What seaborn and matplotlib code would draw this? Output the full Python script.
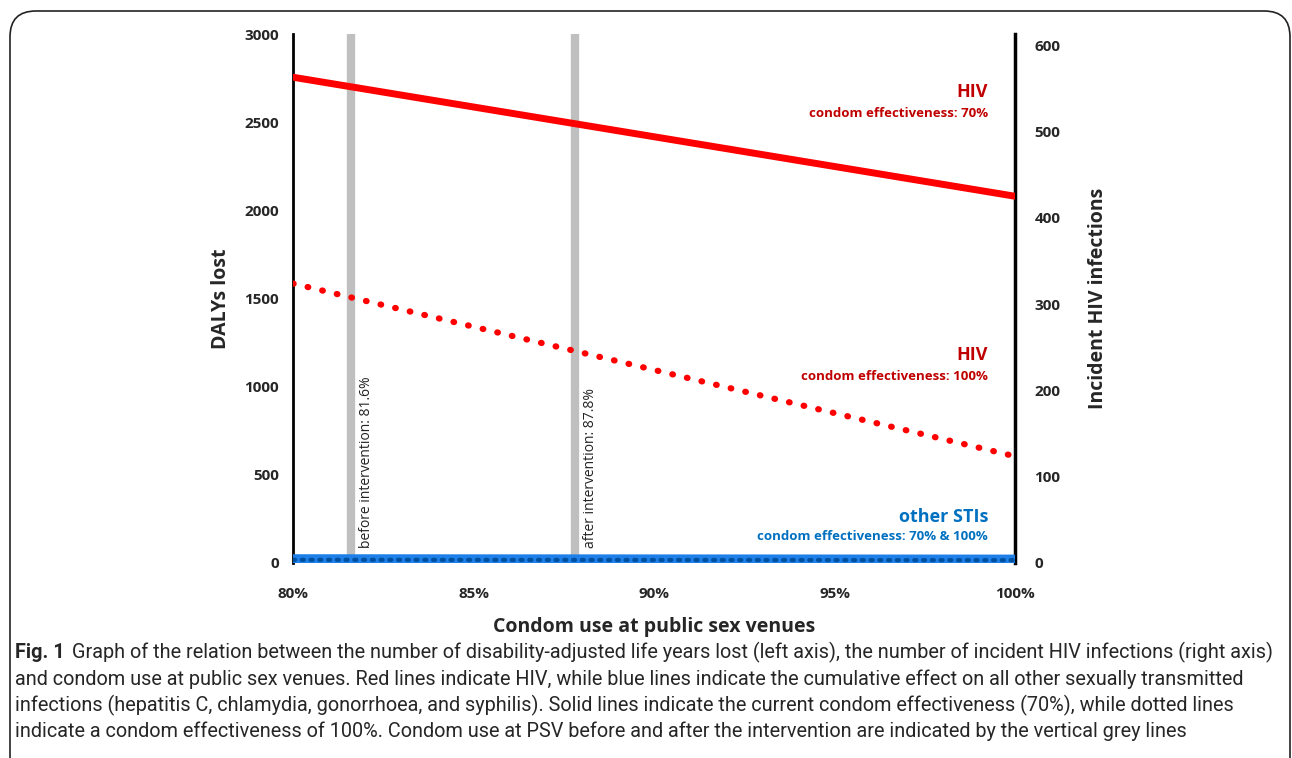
import matplotlib
matplotlib.use("Agg")
import matplotlib.pyplot as plt
import seaborn as sns
import pandas as pd
from matplotlib.patches import FancyBboxPatch

# ---- data ----
condom_use = [80, 100]                  # % condom use at PSV
hiv_daly_70 = [2755, 2080]              # DALYs lost, HIV, effectiveness 70%
hiv_daly_100 = [1585, 605]              # DALYs lost, HIV, effectiveness 100%
sti_daly_70 = [22, 20]                  # DALYs lost, other STIs, 70%
sti_daly_100 = [18, 16]                 # DALYs lost, other STIs, 100%
intervention_x = [81.6, 87.8]
intervention_labels = ["before intervention: 81.6%", "after intervention: 87.8%"]
x_ticks = [80, 85, 90, 95, 100]
x_ticklabels = ["80%", "85%", "90%", "95%", "100%"]
left_ticks = [0, 500, 1000, 1500, 2000, 2500, 3000]
right_ticks = [0, 100, 200, 300, 400, 500, 600]

df = pd.DataFrame({
    "x": condom_use * 4,
    "y": hiv_daly_70 + hiv_daly_100 + sti_daly_70 + sti_daly_100,
    "series": ["hiv70"] * 2 + ["hiv100"] * 2 + ["sti70"] * 2 + ["sti100"] * 2,
})

sns.set_theme(style="white")
plt.rcParams["font.family"] = ["Open Sans", "DejaVu Sans"]

fig = plt.figure(figsize=(12.92, 7.58), dpi=100)
ax = fig.add_axes([0.2268, 0.2573, 0.7856 - 0.2268, 0.9551 - 0.2573])

RED = "#FF0000"
DARKRED = "#C00000"
BLUE = "#0070C0"
LBLUE = "#1E7FE8"

for xv in intervention_x:
    ax.axvline(xv, color="#BFBFBF", lw=6, zorder=1)

ax.axhline(0, color="black", lw=2, ls=(0, (4, 2)), zorder=2)

sns.lineplot(data=df[df.series == "sti70"], x="x", y="y", color=LBLUE, lw=7, ax=ax, zorder=3)
sns.lineplot(data=df[df.series == "sti100"], x="x", y="y", color="#0050A0", lw=3,
             ls=(0, (0.5, 1.6)), dash_capstyle="round", ax=ax, zorder=4)
sns.lineplot(data=df[df.series == "hiv70"], x="x", y="y", color=RED, lw=5, ax=ax, zorder=5)
sns.lineplot(data=df[df.series == "hiv100"], x="x", y="y", color=RED, lw=4.5,
             ls=(0, (0.1, 2.3)), dash_capstyle="round", ax=ax, zorder=5)

ax.set_xlim(80, 100)
ax.set_ylim(0, 3000)
ax.set_xticks(x_ticks)
ax.set_xticklabels(x_ticklabels)
ax.set_yticks(left_ticks)
ax.set_yticklabels([str(v) for v in left_ticks])
ax.tick_params(axis="both", length=0, labelsize=11)
ax.tick_params(axis="x", pad=17)
ax.tick_params(axis="y", pad=10)
for lab in ax.get_xticklabels() + ax.get_yticklabels():
    lab.set_fontweight("bold")

ax.set_xlabel("Condom use at public sex venues", fontsize=14, fontweight="bold", labelpad=12)
ax.set_ylabel("DALYs lost", fontsize=14, fontweight="bold", labelpad=10)

for side in ["top", "bottom"]:
    ax.spines[side].set_visible(False)
ax.spines["left"].set_color("black")
ax.spines["left"].set_linewidth(2)
ax.spines["right"].set_color("black")
ax.spines["right"].set_linewidth(2.5)

ax2 = ax.twinx()
# right axis: 0 at bottom, 600 at y=45px (axes top at 34px)
ax2.set_ylim(0, 600 + 11 / 86.3 * 100)
ax2.set_yticks(right_ticks)
ax2.set_yticklabels([str(v) for v in right_ticks])
ax2.tick_params(axis="y", length=0, labelsize=11, pad=14)
for lab in ax2.get_yticklabels():
    lab.set_fontweight("bold")
ax2.set_ylabel("Incident HIV infections", fontsize=14, fontweight="bold", labelpad=20)
for s in ax2.spines.values():
    s.set_visible(False)

# annotations
XT = 99.25
ax.text(XT, 2670, "HIV", color=DARKRED, fontsize=13, fontweight="bold", ha="right", va="center")
ax.text(XT, 2550, "condom effectiveness: 70%", color=DARKRED, fontsize=9.5, fontweight="bold",
        ha="right", va="center")
ax.text(XT, 1180, "HIV", color=DARKRED, fontsize=13, fontweight="bold", ha="right", va="center")
ax.text(XT, 1060, "condom effectiveness: 100%", color=DARKRED, fontsize=9.5, fontweight="bold",
        ha="right", va="center")
ax.text(XT, 260, "other STIs", color=BLUE, fontsize=13, fontweight="bold", ha="right", va="center")
ax.text(XT, 150, "condom effectiveness: 70% & 100%", color=BLUE, fontsize=9.5, fontweight="bold",
        ha="right", va="center")

for xv, lab in zip(intervention_x, intervention_labels):
    ax.text(xv + 0.44, 85, lab, rotation=90, fontsize=10, color="#222222",
            ha="center", va="bottom")

# caption
cap_font = ["Roboto", "DejaVu Sans"]
CS = 14.3
x0 = 15 / 1292
fig.text(x0, 1 - 652 / 758, "Fig. 1", fontsize=CS, fontweight="bold", va="center", family=cap_font)
lines = [
    "Graph of the relation between the number of disability-adjusted life years lost (left axis), the number of incident HIV infections (right axis)",
    "and condom use at public sex venues. Red lines indicate HIV, while blue lines indicate the cumulative effect on all other sexually transmitted",
    "infections (hepatitis C, chlamydia, gonorrhoea, and syphilis). Solid lines indicate the current condom effectiveness (70%), while dotted lines",
    "indicate a condom effectiveness of 100%. Condom use at PSV before and after the intervention are indicated by the vertical grey lines",
]
ys = [652, 679, 705, 731]
fig.text(x0 + 57 / 1292, 1 - ys[0] / 758, lines[0], fontsize=CS, va="center", family=cap_font)
for t, y in zip(lines[1:], ys[1:]):
    fig.text(x0, 1 - y / 758, t, fontsize=CS, va="center", family=cap_font)

# rounded frame (bottom edge runs past the image)
frame = FancyBboxPatch((10 / 1292, -0.05), 1 - 12 / 1292, 1 - 11 / 758 + 0.05,
                       boxstyle="round,pad=0,rounding_size=0.02",
                       transform=fig.transFigure, fill=False, ec="#222222", lw=1.2,
                       mutation_aspect=1292 / 758)
fig.patches.append(frame)

fig.savefig("out.png", dpi=100)
